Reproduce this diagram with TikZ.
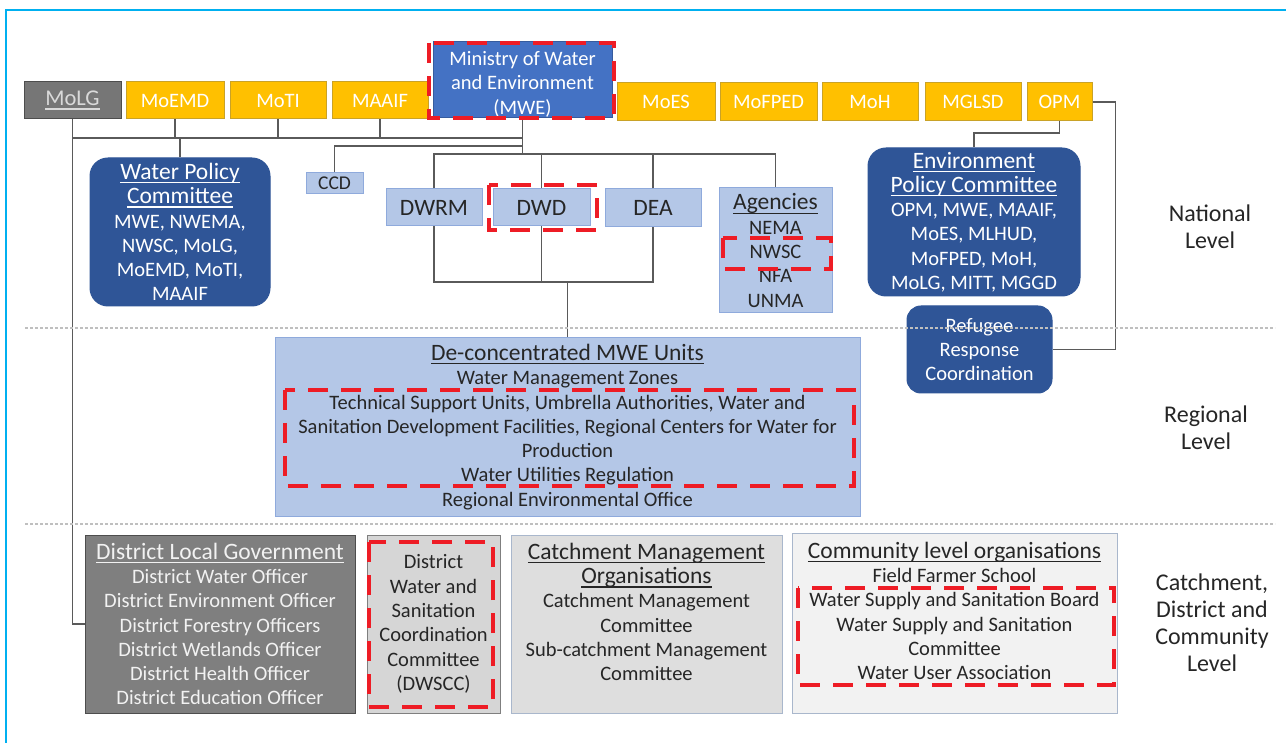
\documentclass[tikz,border=0pt]{standalone}
\usepackage{fontspec}
\setmainfont{Carlito}
\definecolor{ylw}{HTML}{FFC000}
\definecolor{ylwb}{HTML}{C9A227}
\definecolor{gryA}{HTML}{767676}
\definecolor{gryB}{HTML}{4D4D4D}
\definecolor{mweblue}{HTML}{4472C4}
\definecolor{dkblue}{HTML}{2F5597}
\definecolor{ltblue}{HTML}{B4C7E7}
\definecolor{ltblueb}{HTML}{8FAADC}
\definecolor{dlgfill}{HTML}{7F7F7F}
\definecolor{dwfill}{HTML}{D6D6D6}
\definecolor{cmfill}{HTML}{DEDEDE}
\definecolor{clfill}{HTML}{F2F2F2}
\definecolor{bgb}{HTML}{A9B7CC}
\definecolor{hlred}{HTML}{EE1C25}
\definecolor{conncol}{HTML}{5A5A5A}
\definecolor{txt}{HTML}{262626}
\definecolor{frame}{HTML}{00B0F0}
\newcommand{\fBody}{\fontsize{20.5}{24.3}\selectfont}
\newcommand{\fTitle}{\fontsize{23.5}{26}\selectfont}
\newcommand{\fBig}{\fontsize{23.5}{26}\selectfont}
\newcommand{\myul}[1]{\leavevmode\setbox0=\hbox{#1}\rlap{\raisebox{-4pt}{\rule{\wd0}{1.3pt}}}\box0}
\begin{document}
\begin{tikzpicture}[x=1pt,y=-1pt,
  box/.style={draw, inner sep=0pt, align=center, font=\fBody, line width=1pt},
  ybox/.style={box, fill=ylw, draw=ylwb, text=white},
  graybox/.style={box, fill=gryA, draw=gryB, text=white!85!black},
  mwebox/.style={box, fill=mweblue, draw=mweblue!80!black, text=white},
  dbox/.style={box, fill=dkblue, draw=dkblue, text=white, rounded corners=18pt},
  lbox/.style={box, fill=ltblue, draw=ltblueb, text=txt},
  dlgbox/.style={box, fill=dlgfill, draw=gryB, text=white!95!black},
  dwbox/.style={box, fill=dwfill, draw=dlgfill, text=txt},
  cmbox/.style={box, fill=cmfill, draw=bgb, text=txt},
  clbox/.style={box, fill=clfill, draw=bgb, text=txt},
  lvl/.style={align=center, text=txt, font=\fontsize{24}{27}\selectfont, inner sep=0pt},
  conn/.style={draw=conncol, line width=1.5pt},
  hl/.style={draw=hlred, line width=4pt, dash pattern=on 20pt off 13pt},
  sep/.style={draw=black!25, line width=1.5pt, dash pattern=on 3pt off 2pt}
]
\fill[white] (0,0) rectangle (1286,743);
\useasboundingbox (0,0) rectangle (1286,743);
\draw[frame, line width=2.5pt] (6,743) -- (6,10) -- (1286,10);

% top row
\node[graybox, minimum width=97pt, minimum height=37pt, font=\fontsize{22.5}{26}\selectfont] (molg) at (72.5,100.5) {\myul{MoLG}};
\node[ybox, minimum width=98pt, minimum height=37pt] (moemd) at (175,100.5) {MoEMD};
\node[ybox, minimum width=96pt, minimum height=37pt] (moti) at (278,100.5) {MoTI};
\node[ybox, minimum width=96pt, minimum height=37pt] (maaif) at (380,100.5) {MAAIF};
\node[mwebox, minimum width=179pt, minimum height=76pt, font=\fontsize{20.5}{24.5}\selectfont] (mwe) at (522.5,80) {\rule{0pt}{22pt}Ministry of Water\\and Environment\\(MWE)};
\node[ybox, minimum width=98pt, minimum height=38pt] (moes) at (666,102) {MoES};
\node[ybox, minimum width=97pt, minimum height=38pt] (mofped) at (768.5,102) {MoFPED};
\node[ybox, minimum width=96pt, minimum height=38pt] (moh) at (870,102) {MoH};
\node[ybox, minimum width=96pt, minimum height=38pt] (mglsd) at (973,102) {MGLSD};
\node[ybox, minimum width=65pt, minimum height=38pt] (opm) at (1059.5,102) {OPM};

% national level
\node[dbox, minimum width=180pt, minimum height=148pt] (wpc) at (180,232) {{\fTitle\myul{Water Policy}}\\{\fTitle\myul{Committee}}\\MWE, NWEMA,\\NWSC, MoLG,\\MoEMD, MoTI,\\MAAIF};
\node[lbox, minimum width=57pt, minimum height=21pt, font=\fontsize{19.5}{22}\selectfont] (ccd) at (334.5,183.5) {CCD};
\node[lbox, minimum width=96pt, minimum height=37pt, font=\fBig] (dwrm) at (434,207.5) {DWRM};
\node[lbox, minimum width=97pt, minimum height=37pt, font=\fBig] (dwd) at (541.5,207.5) {DWD};
\node[lbox, minimum width=96pt, minimum height=38pt, font=\fBig] (dea) at (653,208) {DEA};
\node[lbox, minimum width=113pt, minimum height=125pt] (agencies) at (775.5,250.5) {{\fTitle\myul{Agencies}}\\NEMA\\NWSC\\NFA\\UNMA};
\node[dbox, minimum width=212pt, minimum height=148pt] (epc) at (974,222) {{\fTitle\myul{Environment}}\\{\fTitle\myul{Policy Committee}}\\OPM, MWE, MAAIF,\\MoES, MLHUD,\\MoFPED, MoH,\\MoLG, MITT, MGGD};
\node[dbox, rounded corners=14pt, minimum width=145pt, minimum height=87pt] (rrc) at (979.5,349.5) {Refugee\\Response\\Coordination};

% regional level
\node[lbox, minimum width=585pt, minimum height=178pt] (deconc) at (567.5,427) {{\fTitle\myul{De-concentrated MWE Units}}\\Water Management Zones\\Technical Support Units, Umbrella Authorities, Water and\\Sanitation Development Facilities, Regional Centers for Water for\\Production\\Water Utilities Regulation\\Regional Environmental Office};

% catchment / district / community level
\node[dlgbox, minimum width=270pt, minimum height=178pt] (dlg) at (220,624) {{\fTitle\myul{District Local Government}}\\District Water Officer\\District Environment Officer\\District Forestry Officers\\District Wetlands Officer\\District Health Officer\\District Education Officer};
\node[dwbox, minimum width=133pt, minimum height=178pt] (dwscc) at (433.5,624) {District\\Water and\\Sanitation\\Coordination\\Committee\\(DWSCC)};
\node[cmbox, minimum width=271pt, minimum height=178pt] (cmo) at (646.5,624) {{\fTitle\myul{Catchment Management}}\\{\fTitle\myul{Organisations}}\\Catchment Management\\Committee\\Sub-catchment Management\\Committee\\\mbox{}};
\node[clbox, minimum width=325pt, minimum height=180pt] (clo) at (954.5,623) {{\fTitle\myul{Community level organisations}}\\Field Farmer School\\Water Supply and Sanitation Board\\Water Supply and Sanitation\\Committee\\Water User Association\\\mbox{}};

% level labels
\node[lvl] (natl) at (1210,227) {National\\Level};
\node[lvl] (regl) at (1206,428) {Regional\\Level};
\node[lvl] (catl) at (1212,623) {Catchment,\\District and\\Community\\Level};

% connectors
\coordinate (b1) at (0,138);
\coordinate (b2) at (0,146);
\coordinate (b3) at (0,154);
\coordinate (b4) at (0,282);
\coordinate (b5) at (0,133);
\draw[conn] (molg.south) |- (dlg.west);
\draw[conn] (molg.south |- b1) -- (mwe.south |- b1);
\draw[conn] (moemd.south) -- (moemd.south |- b1);
\draw[conn] (moti.south) -- (moti.south |- b1);
\draw[conn] (maaif.south) -- (maaif.south |- b1);
\draw[conn] (wpc.north) -- (wpc.north |- b1);
\draw[conn] (mwe.south) -- (mwe.south |- b3);
\draw[conn] (mwe.south |- b2) -| (ccd.north);
\draw[conn] (dwrm.north) |- (agencies.north |- b3) -- (agencies.north);
\draw[conn] (dwd.north) -- (dwd.north |- b3);
\draw[conn] (dea.north) -- (dea.north |- b3);
\draw[conn] (dwrm.south) |- (dea.south |- b4) -- (dea.south);
\draw[conn] (dwd.south) -- (dwd.south |- b4);
\draw[conn] (deconc.north |- b4) -- (deconc.north);
\draw[conn] (opm.south) -- (opm.south |- b5) -| (epc.north);
\draw[conn] (opm.east) -- ++(23,0) |- (rrc.east);

% level separators
\draw[sep] (25,328) -- (1275,328);
\draw[sep] (25,524) -- (1275,524);

% highlight frames
\draw[hl] (429,43) rectangle (614,118);
\draw[hl] (489,185) rectangle (597,230);
\draw[hl] (723,238) rectangle (831,269);
\draw[hl] (285,390) rectangle (854,486);
\draw[hl] (369,542) rectangle (493,707);
\draw[hl] (798,588) rectangle (1114,685);
\end{tikzpicture}
\end{document}
